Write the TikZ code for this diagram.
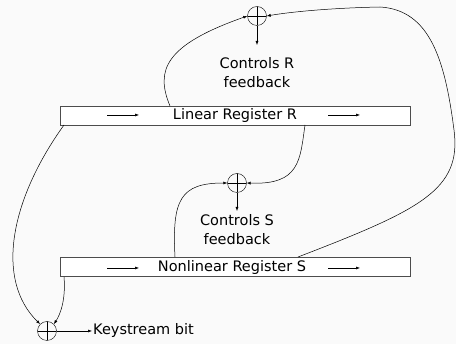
\documentclass[tikz,border=0pt]{standalone}
\usepackage{fontspec}
\setmainfont{DejaVu Sans}
\usetikzlibrary{arrows.meta}
\begin{document}
\begin{tikzpicture}[x=1pt,y=-1pt,
  xorgate/.style={circle,draw,minimum size=19pt,inner sep=0pt,path picture={
    \draw (path picture bounding box.north) -- (path picture bounding box.south)
          (path picture bounding box.west) -- (path picture bounding box.east);}},
  regbox/.style={draw=black!70,fill=white,minimum width=350pt,minimum height=19pt,inner sep=0pt},
  lbl/.style={font=\fontsize{14.5}{19}\selectfont,align=center,inner sep=1pt},
  arr/.style={-{Latex[length=4pt,width=3pt]},line width=0.5pt},
  wire/.style={line width=0.5pt}]
\fill[black!2] (0,0) rectangle (456,344);
\useasboundingbox (0,0) rectangle (456,344);
% registers
\node[regbox] (R) at (235,115.5) {};
\node[regbox] (S) at (235,267) {};
\node[lbl] (Rt) at (235,116) {Linear Register R};
\node[lbl] (St) at (232,267.5) {Nonlinear Register S};
\coordinate (ra1) at (107,115); \coordinate (ra2) at (139,115);
\coordinate (ra3) at (328,115); \coordinate (ra4) at (360,115);
\coordinate (sa1) at (107,268); \coordinate (sa2) at (139,268);
\coordinate (sa3) at (328,268); \coordinate (sa4) at (360,268);
\draw[arr] (ra1) -- (ra2); \draw[arr] (ra3) -- (ra4);
\draw[arr] (sa1) -- (sa2); \draw[arr] (sa3) -- (sa4);
% xor gates
\node[xorgate] (X1) at (257,16) {};
\node[xorgate] (X2) at (237,183) {};
\node[xorgate] (X3) at (47,331) {};
% labels
\node[lbl] (cR) at (257,73) {Controls R\\feedback};
\node[lbl] (cS) at (237,230) {Controls S\\feedback};
\node[lbl,anchor=west] (ks) at (92,331) {Keystream bit};
\draw[arr] (X1.south) -- (257,45);
\draw[arr] (X2.south) -- (237,211);
\draw[arr] (X3.east) -- (ks.west);
% taps
\coordinate (r1) at (170,106);
\coordinate (r2) at (305,125);
\coordinate (r3) at (64,125);
\coordinate (s1) at (298,257);
\coordinate (s2) at (175,257);
\coordinate (s3) at (64,277);
\draw[arr] (r1) .. controls (155,70) and (165,45) .. (X1.west);
\draw[arr] (s1) .. controls (420,210) and (462,190) .. (454,130)
  .. controls (445,60) and (430,10) .. (380,7)
  .. controls (330,8) and (290,12) .. (X1.east);
\draw[arr] (r2) .. controls (300,160) and (300,185) .. (X2.east);
\draw[arr] (s2) .. controls (172,200) and (180,183) .. (X2.west);
\draw[arr] (r3) .. controls (10,200) and (-5,280) .. (X3.north west);
\draw[arr] (s3) .. controls (66,300) and (60,315) .. (X3.north east);
\end{tikzpicture}
\end{document}
